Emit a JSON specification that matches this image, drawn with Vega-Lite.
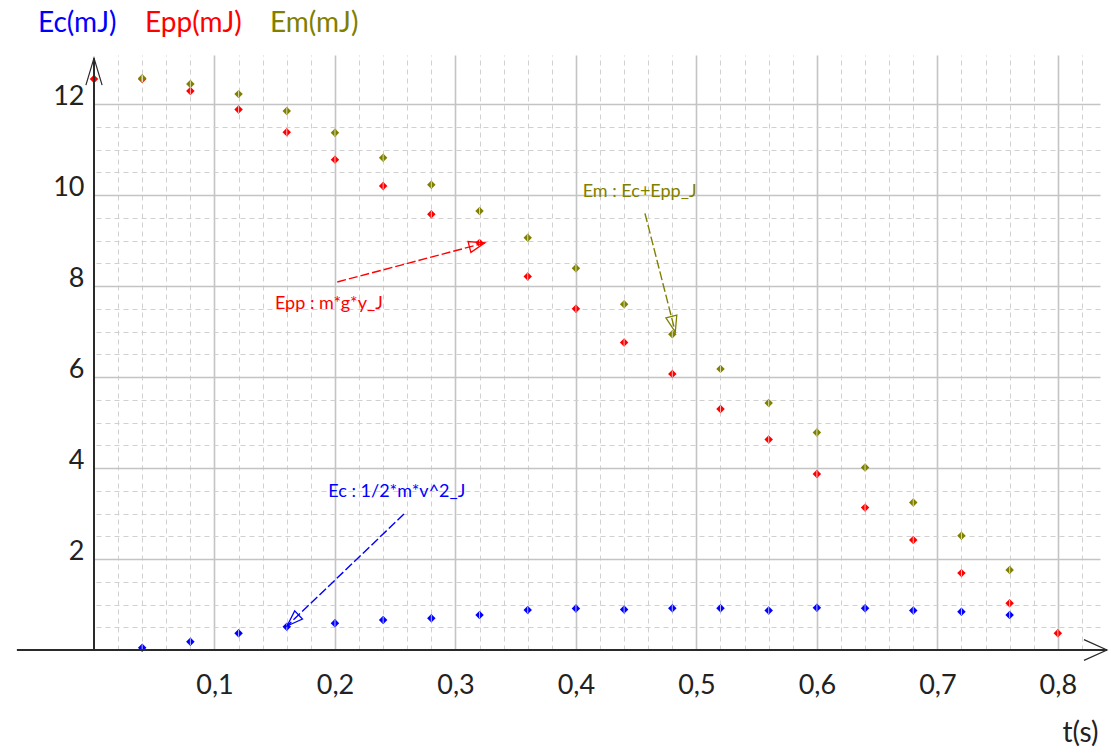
{
  "$schema": "https://vega.github.io/schema/vega-lite/v6.json",
  "autosize": {"type": "none"},
  "padding": {"left": 94, "top": 55, "right": 14, "bottom": 99},
  "width": 1006,
  "height": 595,
  "background": "white",
  "config": {"view": {"stroke": null}, "font": "Lato"},
  "resolve": {"axis": {"x": "independent", "y": "independent"}, "legend": {"color": "independent"}},
  "datasets": {
    "pts": [
      {"t": 0.04, "E": 0.05, "s": "Ec(mJ)"},
      {"t": 0.08, "E": 0.18, "s": "Ec(mJ)"},
      {"t": 0.12, "E": 0.37, "s": "Ec(mJ)"},
      {"t": 0.16, "E": 0.51, "s": "Ec(mJ)"},
      {"t": 0.20, "E": 0.59, "s": "Ec(mJ)"},
      {"t": 0.24, "E": 0.66, "s": "Ec(mJ)"},
      {"t": 0.28, "E": 0.70, "s": "Ec(mJ)"},
      {"t": 0.32, "E": 0.77, "s": "Ec(mJ)"},
      {"t": 0.36, "E": 0.88, "s": "Ec(mJ)"},
      {"t": 0.40, "E": 0.91, "s": "Ec(mJ)"},
      {"t": 0.44, "E": 0.89, "s": "Ec(mJ)"},
      {"t": 0.48, "E": 0.92, "s": "Ec(mJ)"},
      {"t": 0.52, "E": 0.92, "s": "Ec(mJ)"},
      {"t": 0.56, "E": 0.87, "s": "Ec(mJ)"},
      {"t": 0.60, "E": 0.93, "s": "Ec(mJ)"},
      {"t": 0.64, "E": 0.92, "s": "Ec(mJ)"},
      {"t": 0.68, "E": 0.87, "s": "Ec(mJ)"},
      {"t": 0.72, "E": 0.84, "s": "Ec(mJ)"},
      {"t": 0.76, "E": 0.77, "s": "Ec(mJ)"},
      {"t": 0.00, "E": 12.55, "s": "Epp(mJ)"},
      {"t": 0.04, "E": 12.55, "s": "Epp(mJ)"},
      {"t": 0.08, "E": 12.29, "s": "Epp(mJ)"},
      {"t": 0.12, "E": 11.88, "s": "Epp(mJ)"},
      {"t": 0.16, "E": 11.38, "s": "Epp(mJ)"},
      {"t": 0.20, "E": 10.78, "s": "Epp(mJ)"},
      {"t": 0.24, "E": 10.20, "s": "Epp(mJ)"},
      {"t": 0.28, "E": 9.58, "s": "Epp(mJ)"},
      {"t": 0.32, "E": 8.95, "s": "Epp(mJ)"},
      {"t": 0.36, "E": 8.21, "s": "Epp(mJ)"},
      {"t": 0.40, "E": 7.50, "s": "Epp(mJ)"},
      {"t": 0.44, "E": 6.76, "s": "Epp(mJ)"},
      {"t": 0.48, "E": 6.07, "s": "Epp(mJ)"},
      {"t": 0.52, "E": 5.30, "s": "Epp(mJ)"},
      {"t": 0.56, "E": 4.63, "s": "Epp(mJ)"},
      {"t": 0.60, "E": 3.87, "s": "Epp(mJ)"},
      {"t": 0.64, "E": 3.13, "s": "Epp(mJ)"},
      {"t": 0.68, "E": 2.42, "s": "Epp(mJ)"},
      {"t": 0.72, "E": 1.69, "s": "Epp(mJ)"},
      {"t": 0.76, "E": 1.03, "s": "Epp(mJ)"},
      {"t": 0.80, "E": 0.37, "s": "Epp(mJ)"},
      {"t": 0.04, "E": 12.57, "s": "Em(mJ)"},
      {"t": 0.08, "E": 12.44, "s": "Em(mJ)"},
      {"t": 0.12, "E": 12.22, "s": "Em(mJ)"},
      {"t": 0.16, "E": 11.85, "s": "Em(mJ)"},
      {"t": 0.20, "E": 11.37, "s": "Em(mJ)"},
      {"t": 0.24, "E": 10.82, "s": "Em(mJ)"},
      {"t": 0.28, "E": 10.23, "s": "Em(mJ)"},
      {"t": 0.32, "E": 9.65, "s": "Em(mJ)"},
      {"t": 0.36, "E": 9.06, "s": "Em(mJ)"},
      {"t": 0.40, "E": 8.39, "s": "Em(mJ)"},
      {"t": 0.44, "E": 7.60, "s": "Em(mJ)"},
      {"t": 0.48, "E": 6.94, "s": "Em(mJ)"},
      {"t": 0.52, "E": 6.18, "s": "Em(mJ)"},
      {"t": 0.56, "E": 5.43, "s": "Em(mJ)"},
      {"t": 0.60, "E": 4.78, "s": "Em(mJ)"},
      {"t": 0.64, "E": 4.01, "s": "Em(mJ)"},
      {"t": 0.68, "E": 3.24, "s": "Em(mJ)"},
      {"t": 0.72, "E": 2.51, "s": "Em(mJ)"},
      {"t": 0.76, "E": 1.76, "s": "Em(mJ)"}
    ],
    "notes": [
      {"s": "Epp(mJ)", "label": "Epp : m*g*y_J", "lt": 0.1502, "lE": 7.49, "t1": 0.2019, "E1": 8.09, "t2": 0.3245, "E2": 8.95},
      {"s": "Em(mJ)", "label": "Em : Ec+Epp_J", "lt": 0.4056, "lE": 9.96, "t1": 0.4573, "E1": 9.60, "t2": 0.4825, "E2": 6.99},
      {"s": "Ec(mJ)", "label": "Ec : 1/2*m*v^2_J", "lt": 0.1945, "lE": 3.356, "t1": 0.2573, "E1": 2.989, "t2": 0.1602, "E2": 0.527}
    ]
  },
  "layer": [
    {
      "data": {"name": "pts"},
      "mark": {"type": "point", "shape": "diamond", "filled": true, "size": 72, "opacity": 1},
      "encoding": {
        "x": {
          "field": "t", "type": "quantitative",
          "scale": {"domain": [0, 0.835], "nice": false, "zero": false},
          "axis": {
            "title": "t(s)",
            "titleFont": "Lato", "titleFontSize": 28, "titleFontWeight": "normal", "titleColor": "#222",
            "titleX": 1004, "titleY": 91, "titleAlign": "right", "titleBaseline": "alphabetic", "titleAnchor": null,
            "values": [0.1, 0.2, 0.3, 0.4, 0.5, 0.6, 0.7, 0.8],
            "labelExpr": "replace(format(datum.value, '.1f'), '.', ',')",
            "labelOverlap": false, "labelFlush": false,
            "labelFont": "Lato", "labelFontSize": 27, "labelColor": "#222", "labelPadding": 22,
            "ticks": false, "domain": false,
            "grid": true, "gridColor": "#c4c4c4", "gridWidth": 1.6
          }
        },
        "y": {
          "field": "E", "type": "quantitative",
          "scale": {"domain": [0, 13.08], "nice": false, "zero": false},
          "axis": {
            "title": null,
            "values": [2, 4, 6, 8, 10, 12],
            "labelOverlap": false, "labelFlush": false,
            "labelFont": "Lato", "labelFontSize": 27, "labelColor": "#222", "labelPadding": 10, "labelBaseline": "alphabetic",
            "ticks": false, "domain": false,
            "grid": true, "gridColor": "#c4c4c4", "gridWidth": 1.6
          }
        },
        "color": {
          "field": "s", "type": "nominal", "sort": null,
          "scale": {"domain": ["Ec(mJ)", "Epp(mJ)", "Em(mJ)"], "range": ["#0000ff", "#ff0000", "#808000"]},
          "legend": {
            "orient": "none", "legendX": -84, "legendY": -45, "direction": "horizontal",
            "title": null, "symbolOpacity": 0, "symbolSize": 0, "symbolStrokeWidth": 0, "symbolType": "circle",
            "labelFont": "Lato", "labelFontSize": 28, "labelOffset": 0, "labelLimit": 0,
            "columnPadding": -7, "padding": 0,
            "encode": {"labels": {"update": {"fill": {"scale": "color", "field": "value"}}}}
          }
        }
      }
    },
    {
      "data": {"name": "pts"},
      "mark": {"type": "tick", "orient": "vertical", "size": 7, "thickness": 1, "color": "white"},
      "encoding": {
        "x": {
          "field": "t", "type": "quantitative",
          "axis": {
            "orient": "top", "title": null, "labels": false, "ticks": false, "domain": false,
            "values": [0.02, 0.04, 0.06, 0.08, 0.12, 0.14, 0.16, 0.18, 0.22, 0.24, 0.26, 0.28, 0.32, 0.34, 0.36, 0.38, 0.42, 0.44, 0.46, 0.48, 0.52, 0.54, 0.56, 0.58, 0.62, 0.64, 0.66, 0.68, 0.72, 0.74, 0.76, 0.78, 0.82],
            "grid": true, "gridColor": "#d0d0d0", "gridWidth": 1, "gridDash": [5, 4]
          }
        },
        "y": {
          "field": "E", "type": "quantitative",
          "axis": {
            "orient": "right", "title": null, "labels": false, "ticks": false, "domain": false,
            "values": [0.5, 1, 1.5, 2.5, 3, 3.5, 4.5, 5, 5.5, 6.5, 7, 7.5, 8.5, 9, 9.5, 10.5, 11, 11.5],
            "grid": true, "gridColor": "#d0d0d0", "gridWidth": 1, "gridDash": [5, 4]
          }
        }
      }
    },
    {
      "data": {"name": "notes"},
      "mark": {"type": "rule", "strokeWidth": 1.4, "strokeDash": [9, 3]},
      "encoding": {
        "x": {"field": "t1", "type": "quantitative", "axis": null},
        "y": {"field": "E1", "type": "quantitative", "axis": null},
        "x2": {"field": "t2"},
        "y2": {"field": "E2"},
        "color": {"field": "s", "type": "nominal", "legend": null}
      }
    },
    {
      "data": {"name": "notes"},
      "mark": {"type": "text", "align": "left", "baseline": "alphabetic", "font": "Lato", "fontSize": 18},
      "encoding": {
        "x": {"field": "lt", "type": "quantitative", "axis": null},
        "y": {"field": "lE", "type": "quantitative", "axis": null},
        "text": {"field": "label"},
        "color": {"field": "s", "type": "nominal", "legend": null}
      }
    },
    {
      "data": {"name": "notes"},
      "transform": [{"filter": "datum.s == 'Epp(mJ)'"}],
      "mark": {"type": "point", "shape": "M0,0L-1,-0.35L-1,0.35Z", "size": 1024, "filled": false, "strokeWidth": 1.3, "angle": -14.8, "opacity": 1},
      "encoding": {
        "x": {"field": "t2", "type": "quantitative", "axis": null},
        "y": {"field": "E2", "type": "quantitative", "axis": null},
        "color": {"field": "s", "type": "nominal", "legend": null}
      }
    },
    {
      "data": {"name": "notes"},
      "transform": [{"filter": "datum.s == 'Em(mJ)'"}],
      "mark": {"type": "point", "shape": "M0,0L-1,-0.35L-1,0.35Z", "size": 1024, "filled": false, "strokeWidth": 1.3, "angle": 75.7, "opacity": 1},
      "encoding": {
        "x": {"field": "t2", "type": "quantitative", "axis": null},
        "y": {"field": "E2", "type": "quantitative", "axis": null},
        "color": {"field": "s", "type": "nominal", "legend": null}
      }
    },
    {
      "data": {"name": "notes"},
      "transform": [{"filter": "datum.s == 'Ec(mJ)'"}],
      "mark": {"type": "point", "shape": "M0,0L-1,-0.35L-1,0.35Z", "size": 1024, "filled": false, "strokeWidth": 1.3, "angle": 136.3, "opacity": 1},
      "encoding": {
        "x": {"field": "t2", "type": "quantitative", "axis": null},
        "y": {"field": "E2", "type": "quantitative", "axis": null},
        "color": {"field": "s", "type": "nominal", "legend": null}
      }
    },
    {
      "data": {"values": [{}]},
      "mark": {"type": "rule", "color": "#2a2a2a", "strokeWidth": 2},
      "encoding": {
        "x": {"datum": -0.064, "type": "quantitative", "axis": null},
        "x2": {"datum": 0.8408},
        "y": {"datum": 0, "type": "quantitative", "axis": null}
      }
    },
    {
      "data": {"values": [{}]},
      "mark": {"type": "rule", "color": "#2a2a2a", "strokeWidth": 2},
      "encoding": {
        "x": {"datum": 0, "type": "quantitative", "axis": null},
        "y": {"datum": 0, "type": "quantitative", "axis": null},
        "y2": {"datum": 13.01}
      }
    },
    {
      "data": {"values": [{}]},
      "mark": {"type": "point", "shape": "M-0.3,1L0,0L0.3,1", "size": 2916, "filled": false, "color": "#2a2a2a", "strokeWidth": 1.2, "opacity": 1},
      "encoding": {
        "x": {"datum": 0, "type": "quantitative", "axis": null},
        "y": {"datum": 13.01, "type": "quantitative", "axis": null}
      }
    },
    {
      "data": {"values": [{}]},
      "mark": {"type": "point", "shape": "M-1,-0.45L0,0L-1,0.45", "size": 2116, "filled": false, "color": "#2a2a2a", "strokeWidth": 1.2, "opacity": 1},
      "encoding": {
        "x": {"datum": 0.8408, "type": "quantitative", "axis": null},
        "y": {"datum": 0, "type": "quantitative", "axis": null}
      }
    }
  ]
}
